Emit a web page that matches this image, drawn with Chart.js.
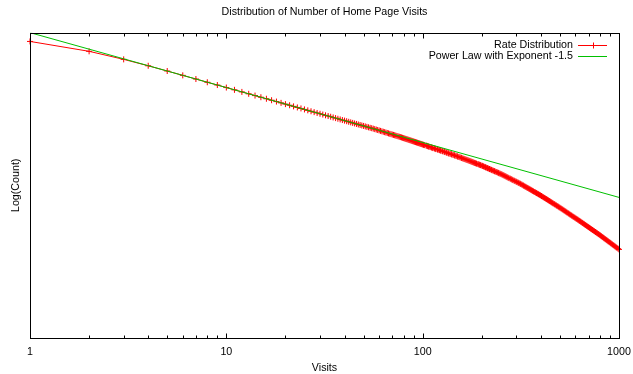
<!DOCTYPE html>
<html>
<head>
<meta charset="utf-8">
<script src="https://cdn.jsdelivr.net/npm/chart.js@4"></script>
<style>
html,body{margin:0;padding:0;background:#fff;}
#wrap{width:633px;height:374px;}
</style>
</head>
<body>
<div id="wrap"><canvas id="c" width="633" height="374"></canvas></div>
<script>
// ---- data ----
const chartTitle = 'Distribution of Number of Home Page Visits';
const xTitle = 'Visits';
const yTitle = 'Log(Count)';
const seriesNames = ['Rate Distribution', 'Power Law with Exponent -1.5'];

// low range: one point per visit count
const rateVisitsLow = [
1,2,3,4,5,6,7,8,9,10,11,12,13,14,15,16,17,18,19,20,21,22,23,24,25,26,27,28,29,30,
31,32,33,34,35,36,37,38,39,40,41,42,43,44,45,46,47,48,49,50,51,52,53,54,55,56,57,58,59,60,
61,62,63,64,65,66,67,68,69,70,71,72,73,74,75,76,77,78,79,80,81,82,83,84,85,86,87,88,89,90,
91,92,93,94,95,96,97,98,99
];
const rateLogCountLow = [
5.76,5.49,5.27,5.095,4.952,4.833,4.733,4.645,4.569,4.500,
4.438,4.381,4.329,4.281,4.236,4.194,4.154,4.117,4.082,4.048,
4.017,3.986,3.957,3.930,3.903,3.878,3.853,3.829,3.806,3.784,
3.763,3.742,3.722,3.703,3.684,3.666,3.648,3.630,3.613,3.597,
3.581,3.565,3.550,3.535,3.520,3.506,3.492,3.478,3.465,3.452,
3.439,3.426,3.414,3.401,3.390,3.378,3.365,3.353,3.341,3.329,
3.317,3.305,3.293,3.282,3.271,3.260,3.248,3.237,3.227,3.216,
3.207,3.197,3.187,3.176,3.166,3.157,3.147,3.138,3.128,3.118,
3.109,3.099,3.090,3.082,3.072,3.063,3.055,3.045,3.036,3.028,
3.018,3.010,3.001,2.993,2.984,2.977,2.968,2.960,2.953
];
// high range: dense samples where the markers merge into a band
const rateVisitsHigh = [
100,101,102,104,105,106,107,108,110,111,112,113,115,116,117,119,120,122,123,124,
126,127,129,130,132,133,135,136,138,140,141,143,145,146,148,150,151,153,155,157,
158,160,162,164,166,168,170,172,174,176,178,180,182,184,186,188,191,193,195,197,
200,202,204,207,209,211,214,216,219,221,224,226,229,232,234,237,240,243,245,248,
251,254,257,260,263,266,269,272,275,279,282,285,288,292,295,299,302,306,309,313,
316,320,324,327,331,335,339,343,347,351,355,359,363,367,372,376,380,385,389,394,
398,403,407,412,417,422,427,432,437,442,447,452,457,462,468,473,479,484,490,495,
501,507,513,519,525,531,537,543,550,556,562,569,575,582,589,596,603,610,617,624,
631,638,646,653,661,668,676,684,692,700,708,716,724,733,741,750,759,767,776,785,
794,804,813,822,832,841,851,861,871,881,891,902,912,923,933,944,955,966,977,989,1000
];
const rateLogCountHigh = [
2.945,2.936,2.927,2.918,2.909,2.900,2.891,2.882,2.873,2.864,2.855,2.846,2.837,2.828,2.819,2.810,2.801,2.792,2.783,2.774,
2.765,2.756,2.746,2.737,2.727,2.718,2.708,2.699,2.689,2.680,2.670,2.661,2.651,2.642,2.632,2.623,2.613,2.604,2.594,2.585,
2.575,2.565,2.555,2.545,2.534,2.524,2.514,2.504,2.493,2.483,2.473,2.463,2.452,2.442,2.432,2.422,2.411,2.401,2.391,2.381,
2.370,2.359,2.347,2.335,2.323,2.312,2.300,2.288,2.276,2.265,2.253,2.241,2.229,2.218,2.206,2.194,2.182,2.171,2.159,2.147,
2.135,2.122,2.108,2.095,2.081,2.068,2.054,2.041,2.027,2.014,2.000,1.987,1.973,1.960,1.946,1.933,1.919,1.906,1.892,1.879,
1.865,1.850,1.834,1.819,1.803,1.788,1.772,1.757,1.741,1.726,1.710,1.695,1.679,1.664,1.648,1.633,1.617,1.602,1.586,1.571,
1.555,1.538,1.521,1.504,1.487,1.470,1.453,1.436,1.419,1.402,1.385,1.368,1.351,1.334,1.317,1.300,1.283,1.266,1.249,1.232,
1.215,1.197,1.179,1.161,1.143,1.125,1.107,1.089,1.071,1.053,1.035,1.017,0.999,0.981,0.963,0.945,0.927,0.909,0.891,0.873,
0.855,0.837,0.818,0.799,0.780,0.762,0.743,0.724,0.705,0.687,0.668,0.649,0.630,0.612,0.593,0.574,0.555,0.537,0.518,0.499,
0.480,0.460,0.440,0.420,0.400,0.380,0.360,0.340,0.320,0.300,0.280,0.260,0.240,0.220,0.200,0.180,0.160,0.140,0.120,0.100,0.080
];
const powerVisits = [1, 1000];
const powerLogCount = [6.0, 1.5];

const xTickLabels = [1, 10, 100, 1000];
const xMinorTicks = [2,3,4,5,6,7,8,9,20,30,40,50,60,70,80,90,200,300,400,500,600,700,800,900];

// ---- chart ----
const FONT = "'Liberation Sans', Arial, Helvetica, sans-serif";
Chart.defaults.font.family = FONT;
Chart.defaults.font.size = 10.7;
Chart.defaults.color = '#000';

const RED = '#ff0000';
const GREEN = '#00c000';

const rateVisits = rateVisitsLow.concat(rateVisitsHigh);
const rateLogCount = rateLogCountLow.concat(rateLogCountHigh);

const framePlugin = {
  id: 'gnuplotFrame',
  afterDatasetsDraw(chart) {
    const {ctx, chartArea: a, scales} = chart;
    const xs = scales.x;
    const L = Math.round(a.left) + 0.5, R = Math.round(a.right) + 0.5;
    const T = Math.round(a.top) + 0.5, B = Math.round(a.bottom) + 0.5;
    ctx.save();
    ctx.strokeStyle = '#000';
    ctx.lineWidth = 1;
    ctx.beginPath();
    const tick = (v, len) => {
      const px = Math.round(xs.getPixelForValue(v)) + 0.5;
      ctx.moveTo(px, B); ctx.lineTo(px, B - len);
      ctx.moveTo(px, T); ctx.lineTo(px, T + len);
    };
    xTickLabels.forEach(v => tick(v, 5));
    xMinorTicks.forEach(v => tick(v, 3));
    ctx.stroke();
    ctx.strokeRect(L, T, R - L, B - T);
    // legend (gnuplot style: right-aligned text, sample to the right)
    ctx.font = '10.7px ' + FONT;
    ctx.fillStyle = '#000';
    ctx.textAlign = 'right';
    ctx.textBaseline = 'middle';
    const textRight = a.right - 46;
    const s0 = a.right - 41, s1 = a.right - 12;
    const rows = [a.top + 12, a.top + 23];
    const cols = [RED, GREEN];
    chart.data.datasets.forEach((ds, i) => {
      const y = rows[i];
      ctx.fillText(ds.label, textRight, y);
      const yy = Math.round(y) + 0.5;
      ctx.beginPath();
      ctx.moveTo(s0, yy);
      ctx.lineTo(s1, yy);
      if (i === 0) {
        const cx = Math.round((s0 + s1) / 2) + 0.5;
        ctx.moveTo(cx - 3, yy); ctx.lineTo(cx + 3, yy);
        ctx.moveTo(cx, yy - 3); ctx.lineTo(cx, yy + 3);
      }
      ctx.strokeStyle = cols[i];
      ctx.stroke();
    });
    ctx.restore();
  }
};

new Chart(document.getElementById('c'), {
  type: 'scatter',
  data: {
    datasets: [
      {
        label: seriesNames[0],
        data: rateVisits.map((v, i) => ({x: v, y: rateLogCount[i]})),
        showLine: true,
        borderColor: RED,
        backgroundColor: RED,
        borderWidth: 1,
        pointStyle: 'cross',
        pointRadius: 3,
        pointBorderWidth: 1,
        pointBorderColor: RED,
        order: 1,
        clip: false
      },
      {
        label: seriesNames[1],
        data: powerVisits.map((v, i) => ({x: v, y: powerLogCount[i]})),
        showLine: true,
        borderColor: GREEN,
        backgroundColor: GREEN,
        borderWidth: 1,
        pointRadius: 0,
        order: 0
      }
    ]
  },
  options: {
    responsive: false,
    animation: false,
    devicePixelRatio: 1,
    layout: {padding: {left: 0, right: 14, top: 0, bottom: 0}},
    plugins: {
      legend: {display: false},
      tooltip: {enabled: false},
      title: {
        display: true,
        text: chartTitle,
        fullSize: false,
        color: '#000',
        font: {size: 10.7, weight: 'normal', family: FONT},
        padding: {top: 6, bottom: 13.8}
      }
    },
    scales: {
      x: {
        type: 'logarithmic',
        min: 1, max: 1000,
        grid: {display: false, drawTicks: false},
        border: {display: false},
        afterBuildTicks: s => { s.ticks = xTickLabels.map(v => ({value: v})); },
        afterFit: s => { s.height = 36; s.paddingLeft = 0; s.paddingRight = 0; },
        ticks: {autoSkip: false, maxRotation: 0, minRotation: 0, padding: 8,
                callback: v => String(v), color: '#000'},
        title: {display: true, text: xTitle, color: '#000', padding: {top: 0, bottom: 0}}
      },
      y: {
        type: 'linear',
        min: -2.34, max: 6,
        grid: {display: false, drawTicks: false},
        border: {display: false},
        ticks: {display: false},
        afterFit: s => { s.width = 30; s.paddingTop = 0; s.paddingBottom = 0; },
        title: {display: true, text: yTitle, color: '#000', padding: {top: 10, bottom: 0}}
      }
    }
  },
  plugins: [framePlugin]
});
</script>
</body>
</html>
